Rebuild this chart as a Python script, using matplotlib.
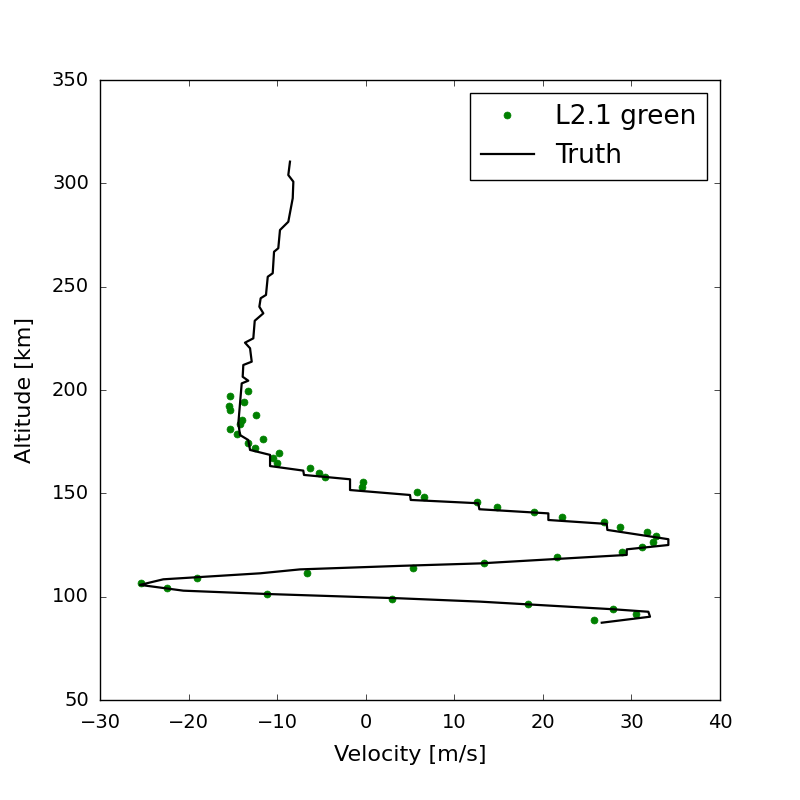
#!/usr/bin/env python3
import matplotlib
matplotlib.use("Agg")
from matplotlib import pyplot as plt

# L2.1 green retrieval points
vel_green = [-13.26, -15.32, -13.71, -15.40, -15.32, -12.39, -14.00, -14.19, -15.32, -14.50,
             -11.56, -13.26, -12.46, -9.75, -10.43, -9.98, -6.29, -5.24, -4.60, -0.27,
             -0.38, 5.76, 6.58, 12.53, 14.86, 19.04, 22.20, 26.94, 28.72, 31.79,
             32.78, 32.47, 31.23, 28.90, 21.63, 13.39, 5.37, -6.66, -19.08, -25.37,
             -22.40, -11.18, 3.00, 18.36, 27.96, 30.48, 25.81]
alt_green = [199.5, 197.1, 194.3, 192.4, 190.3, 187.9, 185.5, 183.4, 181.1, 178.6,
             176.3, 174.2, 172.1, 169.5, 167.3, 164.8, 162.1, 160.0, 157.9, 155.3,
             153.2, 150.5, 148.4, 145.9, 143.5, 141.1, 138.7, 136.3, 133.9, 131.4,
             129.4, 126.5, 123.9, 121.8, 119.3, 116.1, 113.7, 111.3, 109.2, 106.8,
             104.1, 101.3, 98.7, 96.3, 93.9, 91.5, 88.7]

# truth profile
vel_truth = [-8.55, -8.74, -8.17, -8.24, -8.74, -9.68, -9.87, -10.35, -10.50, -11.06,
             -11.26, -11.86, -12.01, -11.56, -12.53, -12.69, -13.63, -13.06, -12.87, -13.82,
             -13.89, -13.26, -14.00, -14.19, -14.38, -14.19, -13.26, -13.06, -10.80, -10.80,
             -7.05, -6.97, -1.77, -1.77, 5.00, 5.08, 12.71, 12.83, 20.62, 20.62,
             27.21, 27.28, 34.17, 34.17, 29.47, 29.47, 21.37, 12.90, 3.87, -7.42,
             -11.93, -19.08, -22.85, -25.48, -20.59, -11.18, 3.87, 12.90, 27.96, 31.91,
             32.10, 26.65]
alt_truth = [310.5, 304.0, 300.8, 292.8, 281.4, 277.4, 268.6, 266.9, 256.5, 254.8,
             246.0, 244.4, 240.3, 237.1, 233.5, 225.0, 222.9, 220.2, 213.7, 212.1,
             206.4, 204.5, 203.2, 193.6, 183.9, 178.2, 175.8, 171.0, 168.6, 163.2,
             161.0, 158.9, 156.8, 151.6, 149.2, 146.8, 145.2, 142.3, 140.3, 137.1,
             135.2, 132.3, 127.8, 125.0, 122.9, 120.2, 118.2, 116.1, 114.9, 113.2,
             111.3, 109.4, 108.4, 105.7, 102.9, 101.3, 99.2, 97.6, 93.9, 92.7,
             90.3, 87.4]

plt.style.use('classic')
plt.rcParams['font.family'] = ['DejaVu Sans']
plt.rcParams['xtick.labelsize'] = 14
plt.rcParams['ytick.labelsize'] = 14
plt.rcParams['xtick.major.pad'] = 9
plt.rcParams['ytick.major.pad'] = 8

fig = plt.figure(figsize=(8, 8), dpi=100, facecolor='white')
ax = fig.add_axes([0.125, 0.125, 0.775, 0.775])
ax.plot(vel_green, alt_green, 'o', color='green', markeredgecolor='green',
        markersize=5, label="L2.1 green")
ax.plot(vel_truth, alt_truth, 'k-', linewidth=1.6, label="Truth")
ax.set_xlim(-30, 40)
ax.set_ylim(50, 350)
ax.set_xlabel("Velocity [m/s]", fontsize=16, labelpad=10)
ax.set_ylabel("Altitude [km]", fontsize=16, labelpad=12)
ax.legend(loc='upper right', numpoints=1, fontsize=19)
fig.savefig("out.png", dpi=100, facecolor='white')
